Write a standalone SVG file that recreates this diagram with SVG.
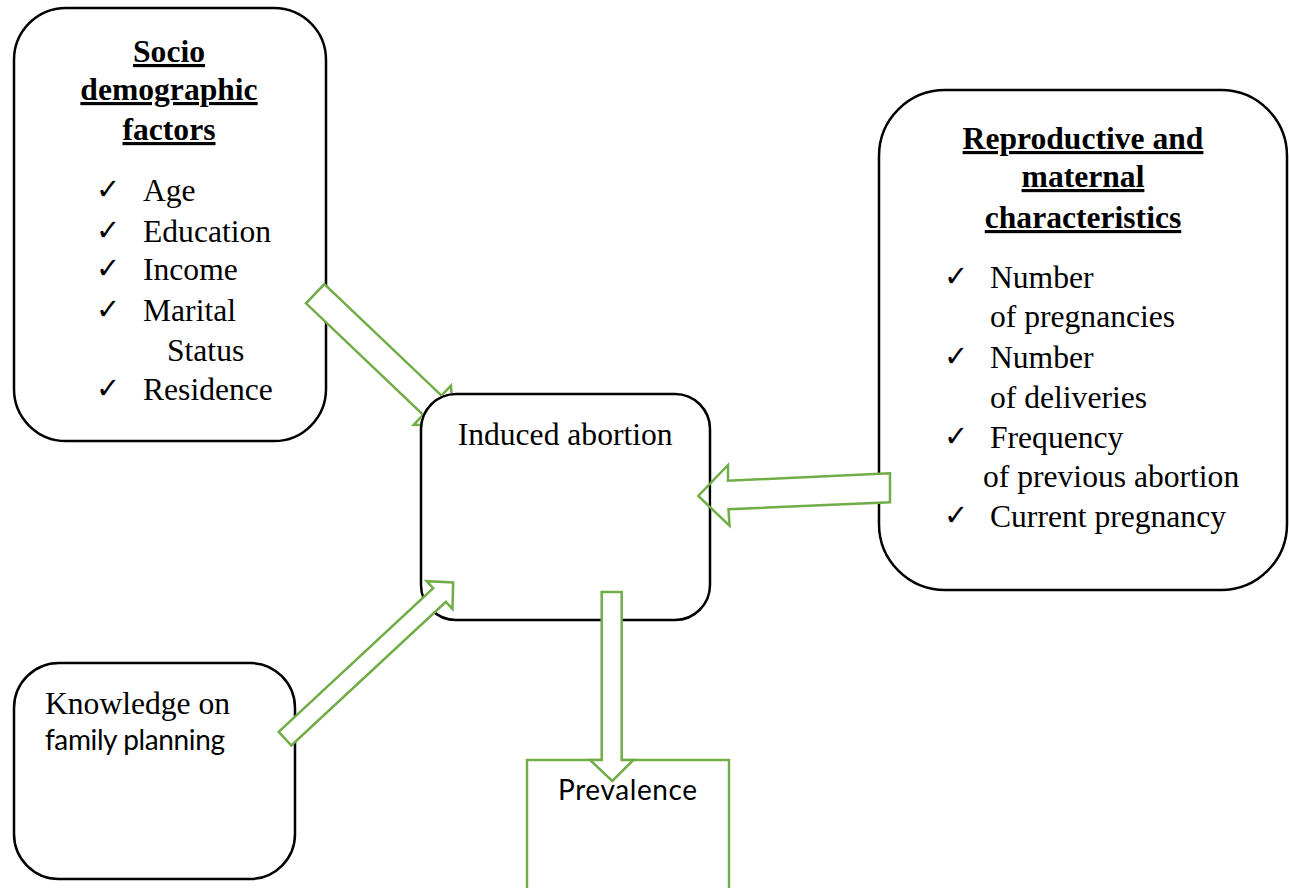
<svg xmlns="http://www.w3.org/2000/svg" width="1289" height="888" viewBox="0 0 1289 888">
<style>
.box{fill:#fff;stroke:#000;stroke-width:2.5}
.gbox{fill:#fff;stroke:#70AD47;stroke-width:2.5}
.arr{fill:#fff;stroke:#70AD47;stroke-width:2.5;stroke-linejoin:miter}
.fillonly{fill:#fff;stroke:none}
.lineonly{fill:none;stroke:#70AD47;stroke-width:2.5}
.serif{font-family:"Liberation Serif","Times New Roman",serif;font-size:31.6px;fill:#000}
.title{font-weight:bold;text-decoration:underline;text-anchor:middle}
.sans{font-family:Lato,"Liberation Sans",sans-serif;font-size:28px;fill:#000}
.chk{font-family:"DejaVu Sans",sans-serif;font-size:29px;fill:#000}
</style>
<defs>
<clipPath id="outsideInduced">
<path clip-rule="evenodd" d="M0,0 H1289 V888 H0 Z M456,392.5 H675 A36.5,36.5 0 0 1 711.5,429 V585 A36.5,36.5 0 0 1 675,621.5 H456 A36.5,36.5 0 0 1 419.5,585 V429 A36.5,36.5 0 0 1 456,392.5 Z"/>
</clipPath>
</defs>
<rect width="1289" height="888" fill="#fff"/>

<g id="socio">
<rect class="box" x="14" y="8" width="312" height="433" rx="52" ry="52"/>
<text class="serif title" x="169" y="62">Socio</text>
<text class="serif title" x="169" y="100">demographic</text>
<text class="serif title" x="169" y="140">factors</text>
<text class="chk" x="96" y="199">✓</text>
<text class="serif" x="143" y="201">Age</text>
<text class="chk" x="96" y="240">✓</text>
<text class="serif" x="143" y="242">Education</text>
<text class="chk" x="96" y="278">✓</text>
<text class="serif" x="143" y="280">Income</text>
<text class="chk" x="96" y="319">✓</text>
<text class="serif" x="143" y="321">Marital</text>
<text class="serif" x="167" y="361">Status</text>
<text class="chk" x="96" y="398">✓</text>
<text class="serif" x="143" y="400">Residence</text>
</g>

<g id="reproductive">
<rect class="box" x="879" y="90" width="408" height="500" rx="66" ry="66"/>
<text class="serif title" x="1083" y="149">Reproductive and</text>
<text class="serif title" x="1083" y="187">maternal</text>
<text class="serif title" x="1083" y="228">characteristics</text>
<text class="chk" x="944" y="286">✓</text>
<text class="serif" x="990" y="288">Number</text>
<text class="serif" x="990" y="327">of pregnancies</text>
<text class="chk" x="944" y="366">✓</text>
<text class="serif" x="990" y="368">Number</text>
<text class="serif" x="990" y="408">of deliveries</text>
<text class="chk" x="944" y="446">✓</text>
<text class="serif" x="990" y="448">Frequency</text>
<text class="serif" x="983" y="487">of previous abortion</text>
<text class="chk" x="944" y="525">✓</text>
<text class="serif" x="990" y="527">Current pregnancy</text>
</g>

<g id="knowledge">
<rect class="box" x="14" y="663" width="281" height="216" rx="45" ry="45"/>
<text class="serif" x="45" y="714">Knowledge on</text>
<text class="sans" x="45" y="750" textLength="180">family planning</text>
</g>

<g id="prevalence">
<path class="gbox" d="M527,895 V760 H729 V895"/>
<text class="sans" x="558" y="800" textLength="139">Prevalence</text>
</g>

<g id="induced">
<rect class="box" x="421" y="394" width="289" height="226" rx="35" ry="35"/>
<text class="serif" x="457.7" y="445">Induced abortion</text>
</g>

<g id="connectors">
<g id="arrow-socio" clip-path="url(#outsideInduced)">
<polygon class="arr" transform="translate(315.2,293.7) rotate(43.6)" points="0,-13.3 161.7,-13.3 161.7,-27 191.7,0 161.7,27 161.7,13.3 0,13.3"/>
</g>
<g id="arrow-repro">
<polygon class="fillonly" clip-path="url(#outsideInduced)" points="890,473.3 728,480.7 728,465 698.3,496 729.5,525.7 728.5,509.3 890,502.3"/>
<polygon class="lineonly" points="890,473.3 728,480.7 728,465 698.3,496 729.5,525.7 728.5,509.3 890,502.3"/>
</g>
<polygon id="arrow-knowledge" class="arr" transform="translate(285,738.7) rotate(-42.9)" points="0,-9.3 211,-9.3 211,-19 229.5,0 211,19 211,9.3 0,9.3"/>
<polygon id="arrow-prevalence" class="arr" points="601.7,592 621.7,592 621.7,760 633.3,760 612.3,781 590,760 601.7,760"/>
</g>
</svg>
